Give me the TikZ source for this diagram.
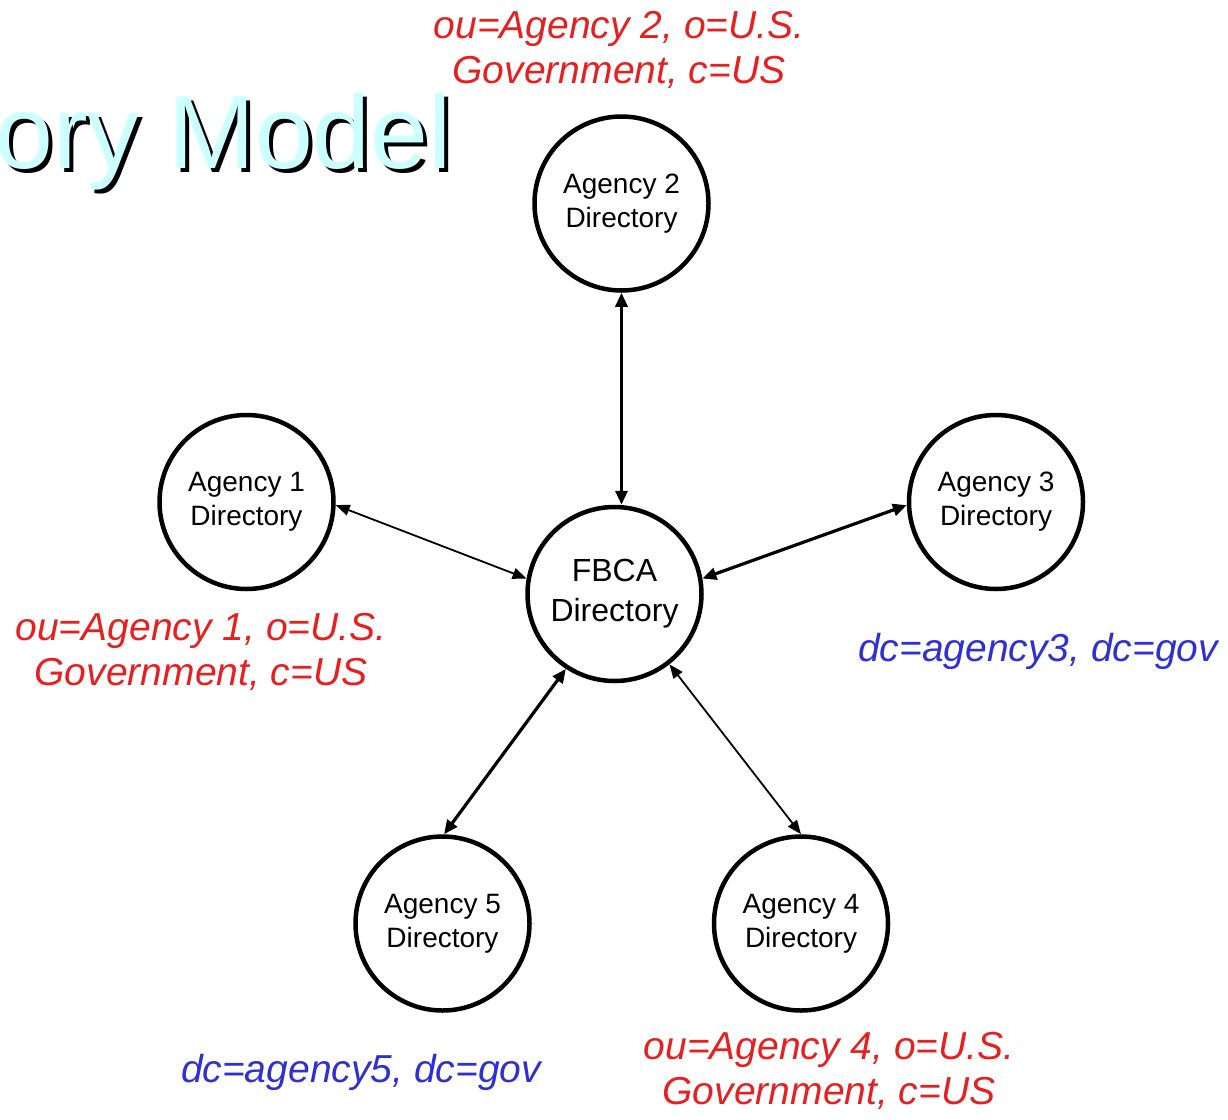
\documentclass[tikz,border=0pt]{standalone}
\usepackage{fontspec}
\setmainfont{Liberation Sans}
\usetikzlibrary{arrows.meta}
\definecolor{lblred}{RGB}{228,32,32}
\definecolor{lblblue}{RGB}{48,48,210}
\definecolor{titlecyan}{RGB}{204,255,255}
\tikzset{
  dirnode/.style={circle,draw=black,line width=4.5pt,minimum size=174pt,inner sep=0pt,align=center,font=\fontsize{28}{34}\selectfont},
  hubnode/.style={dirnode,font=\fontsize{32}{40}\selectfont},
  redlabel/.style={align=center,text=lblred,font=\fontsize{39}{45}\selectfont\itshape},
  bluelabel/.style={align=center,text=lblblue,font=\fontsize{39}{45}\selectfont\itshape},
  thicklink/.style={line width=3.2pt,{Triangle[length=14pt,width=12pt]}-{Triangle[length=14pt,width=12pt]}},
  thinlink/.style={line width=1.8pt,{Triangle[length=14pt,width=11pt]}-{Triangle[length=14pt,width=11pt]}},
  titletext/.style={anchor=base west,inner sep=0pt,font=\fontsize{104}{110}\selectfont}
}
\begin{document}
\begin{tikzpicture}[x=1pt,y=-1pt]
\useasboundingbox (0,0) rectangle (1228,1119);
% title
\node[titletext,text=black] (titleshadow) at (-1,172) {ory Model};
\node[titletext,text=titlecyan] (title) at (-5,168) {ory Model};
% directories
\node[hubnode] (fbca) at (614.5,594) {FBCA\\Directory};
\node[dirnode] (a2) at (621.5,203.5) {Agency 2\\Directory};
\node[dirnode] (a1) at (246.5,502) {Agency 1\\Directory};
\node[dirnode] (a3) at (996,502) {Agency 3\\Directory};
\node[dirnode] (a5) at (442.5,923.5) {Agency 5\\Directory};
\node[dirnode] (a4) at (801,923.5) {Agency 4\\Directory};
% labels
\node[redlabel] (l2) at (619,50) {ou=Agency 2, o=U.S.\\Government, c=US};
\node[redlabel] (l1) at (201,652) {ou=Agency 1, o=U.S.\\Government, c=US};
\node[bluelabel] (l3) at (1038,651) {dc=agency3, dc=gov};
\node[bluelabel] (l5) at (361,1072) {dc=agency5, dc=gov};
\node[redlabel] (l4) at (829,1071) {ou=Agency 4, o=U.S.\\Government, c=US};
% connectors
\draw[thicklink] (a2.south) -- (a2.south |- fbca.north);
\draw[thinlink] (a1.-2) -- (fbca.170);
\draw[thicklink] (a3.182) -- (fbca.10);
\draw[thicklink] (a5.89) -- (fbca.237);
\draw[thinlink] (a4.90) -- (fbca.-52);
\end{tikzpicture}
\end{document}
